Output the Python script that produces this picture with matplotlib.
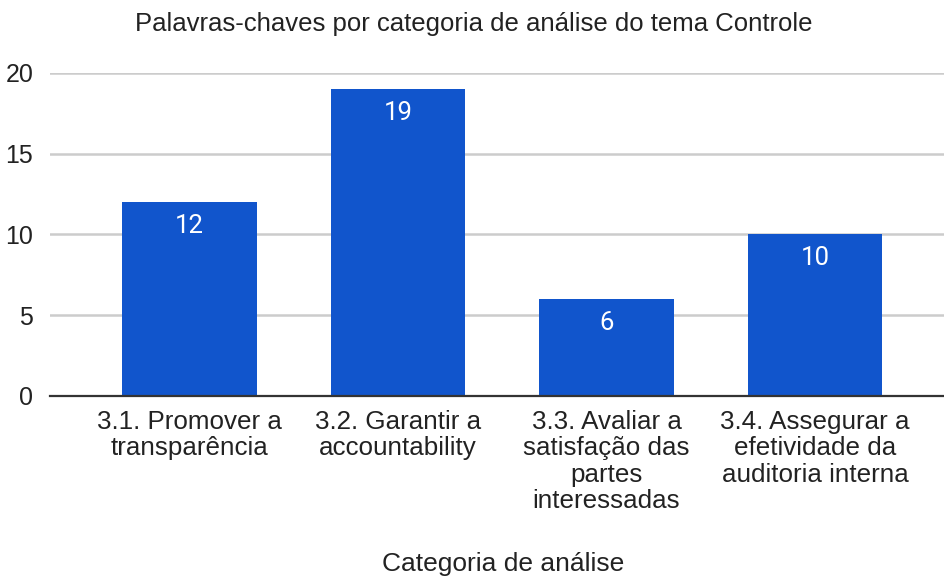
import matplotlib
matplotlib.use("Agg")
import matplotlib.pyplot as plt

categories = [
	"3.1. Promover a\ntransparência",
	"3.2. Garantir a\naccountability",
	"3.3. Avaliar a\nsatisfação das\npartes\ninteressadas",
	"3.4. Assegurar a\nefetividade da\nauditoria interna",
]
values = [12, 19, 6, 10]
yticks = [0, 5, 10, 15, 20]

plt.rcParams['font.family'] = ['Liberation Sans', 'DejaVu Sans']

fig = plt.figure(figsize=(9.44, 5.78), dpi=100)
ax = fig.add_axes([0.053, 0.315, 0.947, 0.559])

x = list(range(len(values)))
bars = ax.bar(x, values, width=0.647, color='#1155cc', zorder=3)

for xi, v in zip(x, values):
	ax.text(xi, v - 0.75, str(v), ha='center', va='top', color='white',
		fontsize=18.5, family=['Roboto', 'DejaVu Sans'], zorder=4)

ax.set_xlim(-0.669, 3.619)
ax.set_ylim(0, 20)
ax.set_yticks(yticks)
ax.set_yticklabels([str(t) for t in yticks], fontsize=18, color='#222222')
ax.set_xticks(x)
ax.set_xticklabels(categories, fontsize=18.7, color='#222222', linespacing=1.13)
ax.grid(axis='y', color='#cccccc', linewidth=1.8, zorder=0)
ax.tick_params(axis='both', length=0)
ax.tick_params(axis='y', pad=12)
ax.tick_params(axis='x', pad=10)
for s in ['top', 'right', 'left']:
	ax.spines[s].set_visible(False)
ax.spines['bottom'].set_color('#333333')
ax.spines['bottom'].set_linewidth(1.6)
ax.spines['bottom'].set_zorder(5)

fig.text(0.502, 0.958, "Palavras-chaves por categoria de análise do tema Controle",
	ha='center', va='center', fontsize=18.5, color='#222222')
fig.text(0.533, 0.025, "Categoria de análise", ha='center', va='center',
	fontsize=19, color='#222222')

fig.savefig("out.png", dpi=100)
